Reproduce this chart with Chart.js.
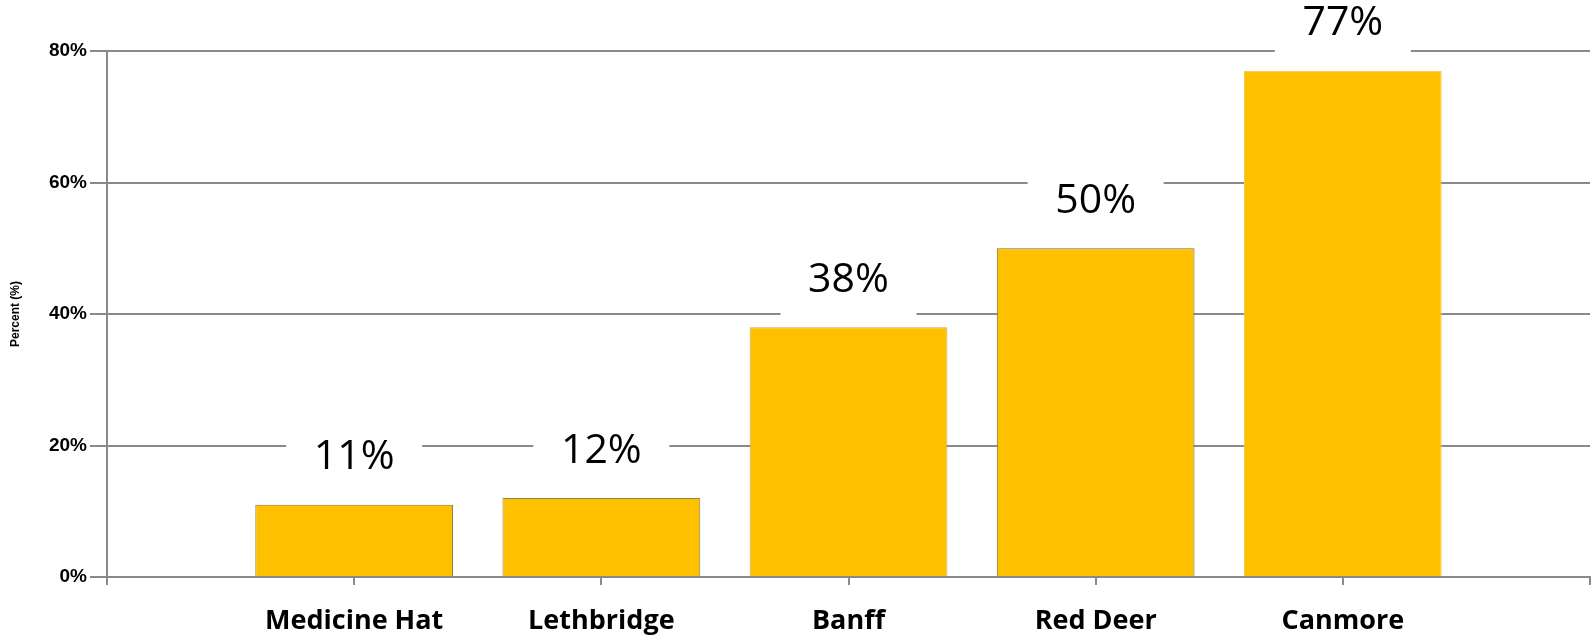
<!DOCTYPE html>
<html>
<head>
<meta charset="utf-8">
<script src="https://cdn.jsdelivr.net/npm/chart.js@4.4.1/dist/chart.umd.min.js"></script>
<style>
  html, body { margin: 0; padding: 0; background: #fff; }
  #wrap { width: 1591px; height: 639px; position: relative; }
</style>
</head>
<body>
<div id="wrap"><canvas id="townChart"></canvas></div>
<script>
const categories = ['Medicine Hat', 'Lethbridge', 'Banff', 'Red Deer', 'Canmore'];
const percents = [11, 12, 38, 50, 77];
const yTicks = [0, 20, 40, 60, 80];

// empty slot on each side, like the original axis
const labels = [''].concat(categories, ['']);
const values = [null].concat(percents, [null]);

const gridGray = '#8a8a8a';

const valueLabels = {
    id: 'valueLabels',
    afterDatasetsDraw(chart) {
        const ctx = chart.ctx;
        const meta = chart.getDatasetMeta(0);
        ctx.save();
        ctx.font = '41px "Open Sans"';
        ctx.textAlign = 'center';
        ctx.textBaseline = 'middle';
        meta.data.forEach((bar, i) => {
            const v = values[i];
            if (v == null) return;
            const cy = bar.y - 47;
            ctx.fillStyle = '#ffffff';
            ctx.fillRect(bar.x - 68, cy - 38, 136, 76);
            ctx.fillStyle = '#000000';
            ctx.fillText(v + '%', bar.x, cy);
        });
        ctx.restore();
    }
};

new Chart(document.getElementById('townChart'), {
    type: 'bar',
    data: {
        labels: labels,
        datasets: [{
            data: values,
            backgroundColor: '#FFC000',
            borderColor: ['#fff', '#8f7a3e', '#9a8448', '#c9a95a', '#7d6c3a', '#f7c844', '#fff'],
            borderWidth: { top: 1, left: 1, right: 1, bottom: 0 },
            borderSkipped: 'bottom',
            barPercentage: 0.8,
            categoryPercentage: 1.0
        }]
    },
    options: {
        responsive: true,
        maintainAspectRatio: false,
        animation: false,
        layout: { padding: { top: 51, right: 1, left: 0, bottom: 0 } },
        plugins: {
            legend: { display: false },
            tooltip: { enabled: false }
        },
        scales: {
            x: {
                offset: false,
                grid: {
                    offset: false,
                    drawOnChartArea: false,
                    drawTicks: true,
                    tickLength: 8,
                    color: gridGray,
                    lineWidth: 2
                },
                border: { display: true, color: gridGray, width: 2 },
                ticks: {
                    autoSkip: false,
                    maxRotation: 0,
                    padding: 20,
                    color: '#000',
                    font: { family: '"Open Sans"', size: 27, weight: 'bold' }
                },
                afterFit(scale) {
                    scale.height = 62;
                    scale.paddingLeft = 0;
                    scale.paddingRight = 0;
                }
            },
            y: {
                min: 0,
                max: 80,
                afterBuildTicks(scale) {
                    scale.ticks = yTicks.map(v => ({ value: v }));
                },
                grid: {
                    color: gridGray,
                    lineWidth: 2,
                    tickLength: 17
                },
                border: { display: true, color: gridGray, width: 2 },
                ticks: {
                    padding: 3,
                    color: '#000',
                    font: { family: '"Liberation Sans"', size: 19, weight: 'bold' },
                    callback: v => v + '%'
                },
                title: {
                    display: true,
                    text: 'Percent (%)',
                    color: '#000',
                    padding: { top: 8, bottom: 0 },
                    font: { family: '"Liberation Sans"', size: 12, weight: 'bold' }
                },
                afterFit(scale) { scale.width = 107; }
            }
        }
    },
    plugins: [valueLabels]
});
</script>
</body>
</html>
